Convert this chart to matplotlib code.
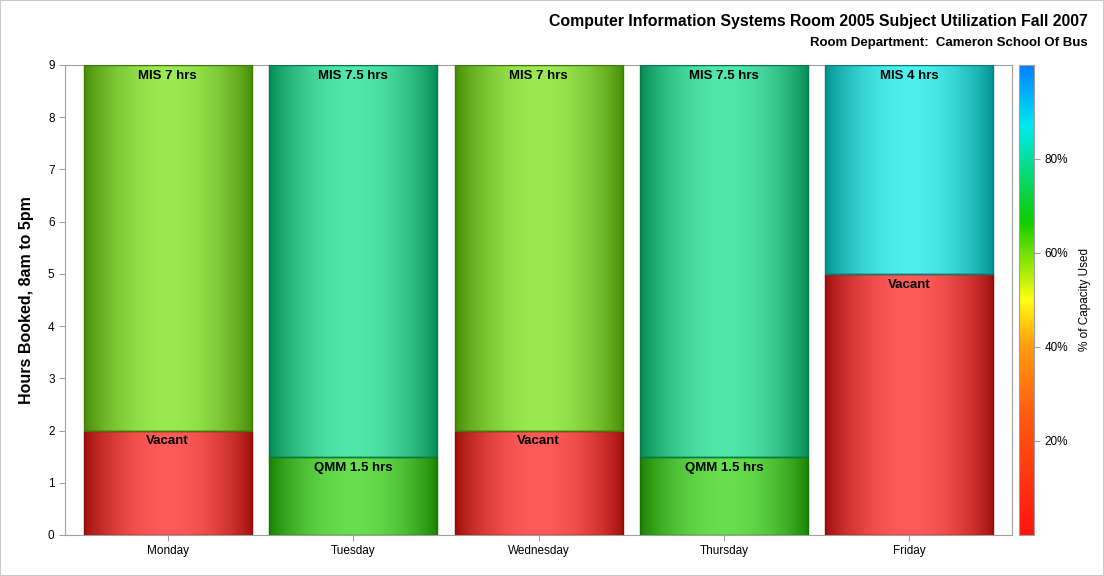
import numpy as np
import matplotlib
matplotlib.use('Agg')
import matplotlib.pyplot as plt
from matplotlib.colors import LinearSegmentedColormap, to_rgb
from matplotlib.patches import Rectangle

plt.rcParams['font.family'] = ['Liberation Sans', 'DejaVu Sans']

# data
days = ['Monday', 'Tuesday', 'Wednesday', 'Thursday', 'Friday']
bottom_labels = ['Vacant', 'QMM 1.5 hrs', 'Vacant', 'QMM 1.5 hrs', 'Vacant']
bottom_hours = [2, 1.5, 2, 1.5, 5]
bottom_pct = [0, 65, 0, 65, 0]
top_labels = ['MIS 7 hrs', 'MIS 7.5 hrs', 'MIS 7 hrs', 'MIS 7.5 hrs', 'MIS 4 hrs']
top_hours = [7, 7.5, 7, 7.5, 4]
top_pct = [60, 78, 60, 78, 86]
cbar_ticks = [20, 40, 60, 80]

cmap = LinearSegmentedColormap.from_list('cap', [
    (0.0, '#ff1410'), (0.25, '#ff5a10'), (0.4, '#ff9c10'), (0.5, '#ffff10'),
    (0.667, '#10cc00'), (0.87, '#00eaf0'), (1.0, '#0080ff')])

fig = plt.figure(figsize=(11.04, 5.76), dpi=100)
fig.patches.append(Rectangle((0, 0), 1, 1, transform=fig.transFigure, fill=False,
                             edgecolor='#c8c8c8', lw=1.5))
ax = fig.add_axes([0.0589, 0.0712, 0.8578, 0.816])
cax = fig.add_axes([0.9230, 0.0712, 0.0136, 0.816])

width = 0.906
t = np.linspace(0, 1, 200)
prof = np.sin(np.pi * t) ** 0.8


def shaded(ax, x, bottom, h, pct):
    base = np.array(to_rgb(cmap(pct / 100.0)))
    light = 0.7 * base + 0.3
    dark = 0.62 * base
    img = dark[None, :] + (light - dark)[None, :] * prof[:, None]
    bars = ax.bar(x, h, width, bottom=bottom, facecolor='none',
                  edgecolor=tuple(0.55 * base), lw=1, zorder=3)
    for b in bars:
        im = ax.imshow(img[None, :, :], extent=(x - width / 2, x + width / 2, bottom, bottom + h),
                       aspect='auto', zorder=2, interpolation='bilinear')
        im.set_clip_path(b)


for i, d in enumerate(days):
    shaded(ax, i, 0, bottom_hours[i], bottom_pct[i])
    shaded(ax, i, bottom_hours[i], top_hours[i], top_pct[i])
    ax.annotate(bottom_labels[i], (i, bottom_hours[i]), xytext=(0, -3.5), textcoords='offset points',
                ha='center', va='top', fontsize=9.5, fontweight='bold', zorder=5)
    ax.annotate(top_labels[i], (i, bottom_hours[i] + top_hours[i]), xytext=(0, -3.5),
                textcoords='offset points', ha='center', va='top', fontsize=9.5,
                fontweight='bold', zorder=5)

ax.set_xlim(-0.553, 4.553)
ax.set_ylim(0, 9)
ax.set_xticks(range(len(days)))
ax.set_xticklabels(days)
ax.set_yticks(range(10))
for s in ax.spines.values():
    s.set_color('#a0a0a0')
ax.tick_params(colors='#a0a0a0', labelcolor='black', labelsize=8.5, length=4)
ax.set_ylabel('Hours Booked, 8am to 5pm', fontsize=11.5, fontweight='bold', labelpad=10)

grad = np.linspace(0, 100, 256)[:, None]
cax.imshow(grad, extent=(0, 1, 0, 100), aspect='auto', origin='lower', cmap=cmap)
cax.set_xticks([])
cax.yaxis.tick_right()
cax.set_yticks(cbar_ticks)
cax.set_yticklabels([f'{v}%' for v in cbar_ticks])
cax.set_ylim(0, 100)
for s in cax.spines.values():
    s.set_color('#a0a0a0')
cax.tick_params(colors='#a0a0a0', labelcolor='black', labelsize=8.5, length=4)
cax.yaxis.set_label_position('right')
cax.set_ylabel('% of Capacity Used', fontsize=8.5, labelpad=8)

fig.text(0.9855, 0.962, 'Computer Information Systems Room 2005 Subject Utilization Fall 2007',
         ha='right', va='center', fontsize=11.4, fontweight='bold')
fig.text(0.9855, 0.926, 'Room Department:  Cameron School Of Bus',
         ha='right', va='center', fontsize=9.5, fontweight='bold')

fig.savefig('out.png', dpi=100)
